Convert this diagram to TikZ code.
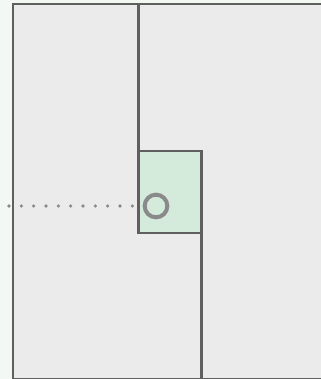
\documentclass[tikz,border=0pt]{standalone}
\usepackage{tikz}
\definecolor{bgpaper}{HTML}{F4F8F4}
\definecolor{wallfill}{HTML}{EBEBEB}
\definecolor{wallline}{HTML}{5F5F5F}
\definecolor{doorfill}{HTML}{D4EBDC}
\definecolor{markgray}{HTML}{8A8A8A}
\tikzset{
  wall/.style={draw=wallline, line width=1.9pt},
  doorbox/.style={wall, fill=doorfill, minimum width=47.25pt, minimum height=61.5pt, inner sep=0pt, outer sep=0pt, anchor=north west},
  ring/.style={circle, draw=markgray, line width=3pt, minimum size=17pt, inner sep=0pt},
  dotline/.style={markgray, line width=2.7pt, line cap=round, dash pattern=on 0pt off 9.25pt}
}
\begin{document}
\begin{tikzpicture}[x=0.75pt, y=-0.75pt]
        % 背景
        \fill[bgpaper] (0,0) rectangle (321,379);
        \useasboundingbox (0,0) rectangle (321,379);

        % 外枠
        \begin{scope}
          \clip (0,0) rectangle (321,379);
          \filldraw[wall, fill=wallfill] (13,4) rectangle (340,379);
        \end{scope}

        % 中央のボックス
        \node[doorbox] (door) at (138.5,151) {};

        % 仕切り線
        \coordinate (topend) at (138.5,4);
        \coordinate (botend) at (201.5,379);
        \draw[wall] (topend) -- (door.north west);
        \draw[wall] (door.south east) -- (botend);

        % 丸印と点線
        \node[ring] (mark) at (156,206) {};
        \coordinate (dotstart) at (9,206);
        \draw[dotline] (dotstart) -- (mark.west);
\end{tikzpicture}
\end{document}
